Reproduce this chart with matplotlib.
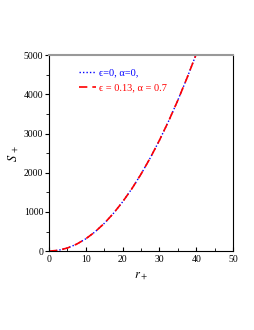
import matplotlib
matplotlib.use("Agg")
from matplotlib import pyplot as plt
from matplotlib.ticker import MultipleLocator

plt.rcParams["font.family"] = ["Liberation Serif", "DejaVu Serif"]
plt.rcParams["mathtext.fontset"] = "stix"

# values
r_plus = [0, 2.5, 5, 7.5, 10, 12.5, 15, 17.5, 20, 22.5, 25, 27.5, 30, 32.5, 35, 37.5, 40]
S_eps0 = [0, 20, 79, 177, 314, 491, 707, 962, 1257, 1590, 1963, 2376, 2827, 3318, 3848, 4418, 5027]
S_eps013 = [0, 20, 79, 177, 314, 491, 707, 962, 1257, 1590, 1963, 2376, 2827, 3318, 3848, 4418, 5027]

fig = plt.figure(figsize=(2.55, 3.30), dpi=100)
ax = fig.add_axes([0.192, 0.239, 0.722, 0.594])

ax.plot(r_plus, S_eps0, color="blue", linestyle=(0, (1, 1.5)), linewidth=1.0, label="ϵ=0, α=0,")
ax.plot(r_plus, S_eps013, color="red", linestyle=(0, (5, 3)), linewidth=1.2,
        label="ϵ = 0.13, α = 0.7")

ax.set_xlim(0, 50)
ax.set_ylim(0, 5000)
ax.xaxis.set_major_locator(MultipleLocator(10))
ax.xaxis.set_minor_locator(MultipleLocator(5))
ax.yaxis.set_major_locator(MultipleLocator(1000))
ax.yaxis.set_minor_locator(MultipleLocator(500))
ax.tick_params(axis="x", direction="in", labelsize=7, length=3, pad=3)
ax.tick_params(axis="x", which="minor", direction="in", length=2)
ax.tick_params(axis="y", direction="out", labelsize=7, length=3, pad=1)
ax.tick_params(axis="y", which="minor", direction="out", length=2)

ax.spines["top"].set_color("#999999")
ax.spines["top"].set_linewidth(1.5)
for s in ["left", "bottom", "right"]:
    ax.spines[s].set_linewidth(0.8)

ax.set_xlabel("$r_+$", fontsize=9, labelpad=4)
ax.set_ylabel("$S_{\\ +}$", fontsize=9)
ax.yaxis.set_label_coords(-0.15, 0.5)

leg = ax.legend(loc="upper left", bbox_to_anchor=(0.127, 0.965), frameon=False,
                fontsize=7.5, handlelength=1.7, handletextpad=0.3,
                borderpad=0.1, labelspacing=0.55)
for txt, col in zip(leg.get_texts(), ["blue", "red"]):
    txt.set_color(col)

fig.savefig("out.png", dpi=100)
